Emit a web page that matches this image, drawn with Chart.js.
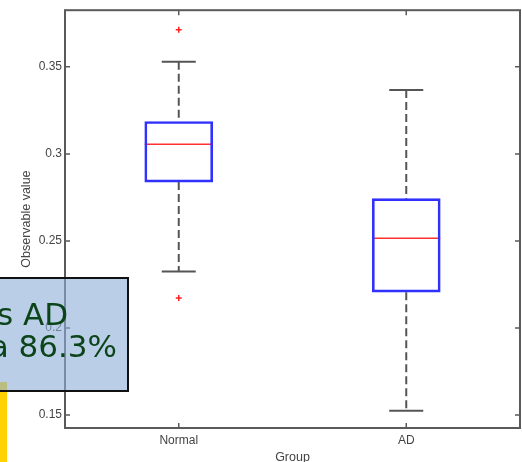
<!DOCTYPE html>
<html>
<head>
<meta charset="utf-8">
<script src="https://cdn.jsdelivr.net/npm/chart.js@4.4.0/dist/chart.umd.min.js"></script>
<style>
  html, body { margin: 0; padding: 0; background: #fff; }
  #wrap { width: 522px; height: 462px; }
</style>
</head>
<body>
<div id="wrap"><canvas id="box_chart"></canvas></div>
<script>
// valori
var groups = ["Normal", "AD"];
var lowerWhisker = [0.2324, 0.1525];
var q1 = [0.2838, 0.2206];
var median = [0.3055, 0.2515];
var q3 = [0.3186, 0.2743];
var upperWhisker = [0.3529, 0.3367];
var outliers = [[0.3713, 0.2172], []];
var yTicks = [0.15, 0.2, 0.25, 0.3, 0.35];
var yTickLabels = ["0.15", "0.2", "0.25", "0.3", "0.35"];
var yMin = 0.1426;
var yMax = 0.3825;
var noteLines = ["vs AD", "a 86.3%"];

var axisFont = { family: "'Liberation Sans', Arial, sans-serif", size: 12 };
var axisColor = "#5a5a5a";

// baffi tratteggiati (null = interruzione)
var whiskerPoints = [];
groups.forEach(function(g, i) {
  whiskerPoints.push({ x: g, y: upperWhisker[i] }, { x: g, y: q3[i] }, { x: g, y: null });
  whiskerPoints.push({ x: g, y: q1[i] }, { x: g, y: lowerWhisker[i] }, { x: g, y: null });
});

var capPoints = [];
groups.forEach(function(g, i) {
  capPoints.push({ x: g, y: upperWhisker[i] }, { x: g, y: lowerWhisker[i] });
});

var medianPoints = groups.map(function(g, i) { return { x: g, y: median[i] }; });

var outlierPoints = [];
groups.forEach(function(g, i) {
  outliers[i].forEach(function(v) { outlierPoints.push({ x: g, y: v }); });
});

// cornice + tacche interne stile matlab
var framePlugin = {
  id: "frame",
  afterDatasetsDraw: function(chart) {
    var ctx = chart.ctx;
    var a = chart.chartArea;
    var ys = chart.scales.y;
    var xs = chart.scales.x;
    ctx.save();
    ctx.strokeStyle = axisColor;
    ctx.lineWidth = 1.5;
    yTicks.forEach(function(v) {
      var py = ys.getPixelForValue(v);
      ctx.beginPath();
      ctx.moveTo(a.left, py); ctx.lineTo(a.left + 5, py);
      ctx.moveTo(a.right, py); ctx.lineTo(a.right - 5, py);
      ctx.stroke();
    });
    groups.forEach(function(g, i) {
      var px = xs.getPixelForValue(i);
      ctx.beginPath();
      ctx.moveTo(px, a.bottom); ctx.lineTo(px, a.bottom - 5);
      ctx.moveTo(px, a.top); ctx.lineTo(px, a.top + 5);
      ctx.stroke();
    });
    ctx.lineWidth = 2;
    ctx.strokeRect(a.left, a.top, a.right - a.left, a.bottom - a.top);
    ctx.restore();
  }
};

// riquadro della slide sovrapposto
var notePlugin = {
  id: "note",
  afterDraw: function(chart) {
    var ctx = chart.ctx;
    ctx.save();
    ctx.fillStyle = "#ffd200";
    ctx.fillRect(0, 382, 7, 80);
    ctx.fillStyle = "rgba(140, 174, 216, 0.6)";
    ctx.fillRect(-2, 278, 130, 113);
    ctx.strokeStyle = "#111";
    ctx.lineWidth = 2;
    ctx.strokeRect(-2, 278, 130, 113);
    ctx.fillStyle = "#0c4419";
    ctx.font = "31px 'DejaVu Sans', sans-serif";
    ctx.textAlign = "right";
    ctx.textBaseline = "alphabetic";
    ctx.fillText(noteLines[0], 68, 325);
    ctx.fillText(noteLines[1], 117, 357);
    ctx.restore();
  }
};

var ctxBox = document.getElementById("box_chart");
var boxChart = new Chart(ctxBox, {
  data: {
    labels: groups,
    datasets: [
      {
        type: "bar",
        data: groups.map(function(g, i) { return [q1[i], q3[i]]; }),
        backgroundColor: "rgba(0,0,0,0)",
        borderColor: "#3030ff",
        borderWidth: 2,
        borderSkipped: false,
        barThickness: 68
      },
      {
        type: "line",
        data: whiskerPoints,
        borderColor: "#555",
        borderWidth: 2,
        borderDash: [8, 4],
        pointRadius: 0,
        spanGaps: false
      },
      {
        type: "line",
        data: capPoints,
        showLine: false,
        pointStyle: "line",
        pointRadius: 17,
        pointBorderColor: "#555",
        pointBorderWidth: 2
      },
      {
        type: "line",
        data: medianPoints,
        showLine: false,
        pointStyle: "line",
        pointRadius: 34,
        pointBorderColor: "#ff3030",
        pointBorderWidth: 1.5
      },
      {
        type: "line",
        data: outlierPoints,
        showLine: false,
        pointStyle: "cross",
        pointRadius: 3,
        pointBorderColor: "#ff2020",
        pointBorderWidth: 1.5
      }
    ]
  },
  options: {
    responsive: true,
    maintainAspectRatio: false,
    animation: false,
    events: [],
    layout: { autoPadding: false, padding: { left: 0, right: 2, top: 7, bottom: 0 } },
    plugins: {
      legend: { display: false },
      tooltip: { enabled: false }
    },
    scales: {
      x: {
        type: "category",
        offset: true,
        grid: { display: false, drawTicks: false },
        border: { display: false },
        ticks: { color: "#444", font: axisFont, padding: 5 },
        title: {
          display: true,
          text: "Group",
          color: "#444",
          font: { family: axisFont.family, size: 12.5 },
          padding: { top: 0, bottom: -3 }
        },
        afterFit: function(s) { s.height = 34; }
      },
      y: {
        type: "linear",
        min: yMin,
        max: yMax,
        grid: { display: false, drawTicks: false },
        border: { display: false },
        afterBuildTicks: function(s) {
          s.ticks = yTicks.map(function(v) { return { value: v }; });
        },
        ticks: {
          color: "#444",
          font: axisFont,
          padding: 3,
          callback: function(value) { return yTickLabels[yTicks.indexOf(value)]; }
        },
        title: {
          display: true,
          text: "Observable value",
          color: "#444",
          font: { family: axisFont.family, size: 12.5 },
          padding: { top: 19, bottom: 0 }
        },
        afterFit: function(s) { s.width = 65; }
      }
    }
  },
  plugins: [framePlugin, notePlugin]
});
</script>
</body>
</html>
